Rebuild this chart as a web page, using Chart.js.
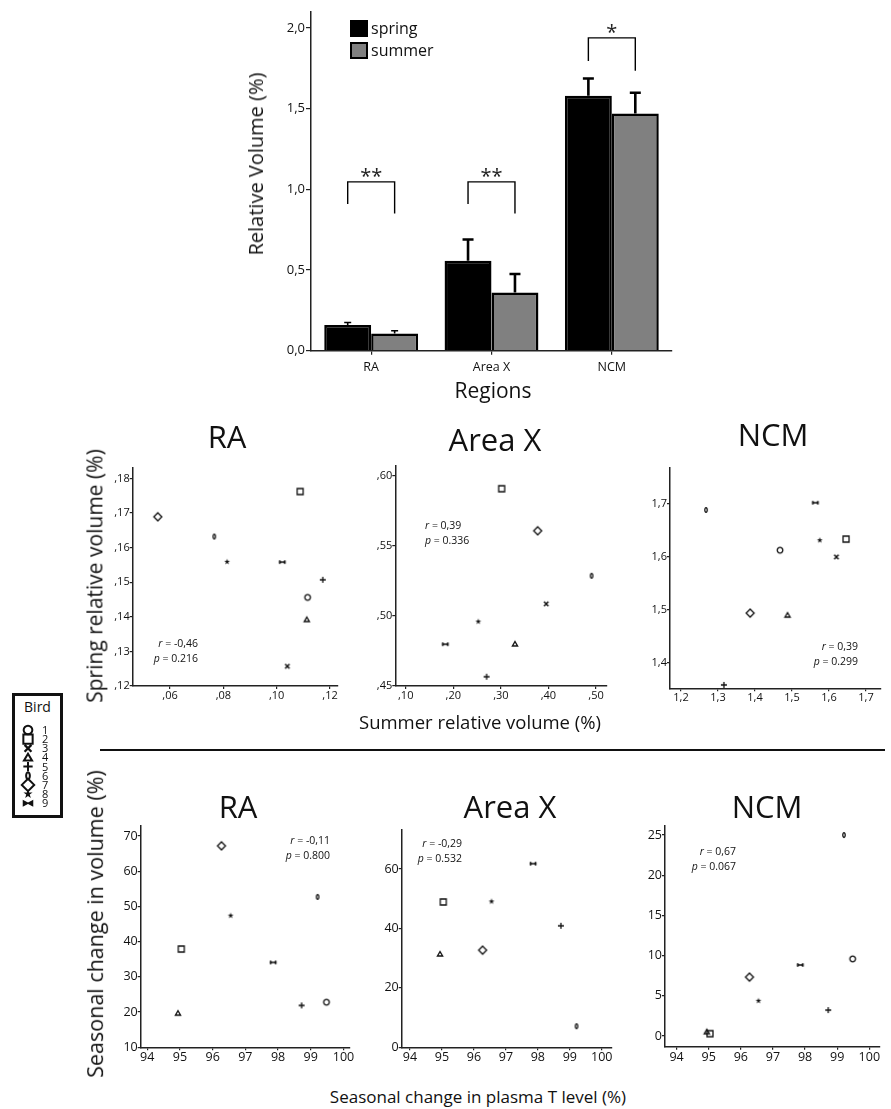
<!DOCTYPE html>
<html>
<head>
<meta charset="utf-8">
<script src="https://cdn.jsdelivr.net/npm/chart.js@4.4.0/dist/chart.umd.min.js"></script>
<style>
body{margin:0;background:#fff}
#fig{position:relative;width:891px;height:1109px;font-family:'Open Sans',sans-serif;color:#111;overflow:hidden;background:#fff}
#fig canvas{position:absolute}
.lbl{position:absolute;white-space:nowrap;line-height:1.2}
.stat{position:absolute;white-space:nowrap;font-size:10.5px;line-height:14.5px}
</style>
</head>
<body>
<div id="fig"></div>
<script>
// Seasonal song-nucleus volume figure

// bar chart: relative volume per region
const regions = ['RA','Area X','NCM']
const springMean = [0.159,0.557,1.579]
const springErr = [0.016,0.132,0.107]
const summerMean = [0.107,0.361,1.470]
const summerErr = [0.017,0.114,0.128]
const barTicks = [0,0.5,1,1.5,2]
const sigMarks = ['**','**','*']
const sigTop = [1.046,1.046,1.938]
const sigLeftEnd = [0.908,0.908,1.794]
const sigRightEnd = [0.85,0.85,1.734]

// birds 1..9 and their symbols
const birds = [1,2,3,4,5,6,7,8,9]
const birdShapes = ['circle','square','cross','triangle','plus','zero','diamond','star','bowtie']

// summer (x) vs spring (y) relative volume, per bird
const raSummer = [0.1116,0.1088,0.1040,0.1113,0.1173,0.0766,0.0554,0.0814,0.1021]
const raSpring = [0.1456,0.1762,0.1257,0.1392,0.1507,0.1632,0.1689,0.1559,0.1558]
const areaXSummer = [null,0.3017,0.3954,0.3296,0.2700,0.4908,0.3773,0.2525,0.1832]
const areaXSpring = [null,0.5907,0.5086,0.4800,0.4566,0.5286,0.5607,0.4960,0.4798]
const ncmSummer = [1.4676,1.646,1.620,1.488,1.316,1.2676,1.387,1.575,1.563]
const ncmSpring = [1.6127,1.6337,1.600,1.490,1.358,1.6887,1.4938,1.6316,1.7025]

// seasonal change in plasma T (x) vs seasonal change in volume (y)
const plasmaT = [99.48,95.04,null,94.94,98.72,99.21,96.27,96.55,97.85]
const raChange = [22.8,37.9,null,19.7,21.9,52.7,67.2,47.4,34.1]
const areaXChange = [null,48.9,null,31.4,40.9,7.1,32.7,49.1,61.8]
const ncmChange = [9.59,0.29,null,0.53,3.22,25.0,7.33,4.38,8.84]

// tick values
const raVolXTicks = [0.06,0.08,0.10,0.12]
const raVolYTicks = [0.12,0.13,0.14,0.15,0.16,0.17,0.18]
const areaXVolXTicks = [0.1,0.2,0.3,0.4,0.5]
const areaXVolYTicks = [0.45,0.5,0.55,0.6]
const ncmVolXTicks = [1.2,1.3,1.4,1.5,1.6,1.7]
const ncmVolYTicks = [1.4,1.5,1.6,1.7]
const plasmaTicks = [94,95,96,97,98,99,100]
const raChangeTicks = [10,20,30,40,50,60,70]
const areaXChangeTicks = [0,20,40,60]
const ncmChangeTicks = [0,5,10,15,20,25]

const FONT = "'Open Sans', sans-serif"
const INK = '#111'
Chart.defaults.font.family = FONT
Chart.defaults.color = INK

const fig = document.getElementById('fig')

function addCanvas(b){
  const c = document.createElement('canvas')
  c.width = b.w; c.height = b.h
  c.style.left = b.x+'px'; c.style.top = b.y+'px'
  fig.appendChild(c)
  return c
}

function label(html, x, y, size, opts){
  opts = opts || {}
  const d = document.createElement('div')
  d.className = 'lbl'
  d.innerHTML = html
  d.style.fontSize = size+'px'
  d.style.left = x+'px'; d.style.top = y+'px'
  d.style.transform = 'translate(-50%,-50%)' + (opts.rot ? ' rotate(-90deg)' : '')
  fig.appendChild(d)
  return d
}

function stat(lines, x, y, align){
  const d = document.createElement('div')
  d.className = 'stat'
  d.innerHTML = lines.join('<br>')
  d.style.top = y+'px'
  d.style.textAlign = align
  if(align==='right'){ d.style.right = (891-x)+'px' } else { d.style.left = x+'px' }
  fig.appendChild(d)
}

const fmtFrac = v => v.toFixed(2).slice(1).replace('.',',')
const fmtOne = v => v.toFixed(1).replace('.',',')
const fmtInt = v => String(v)

function drawMarker(ctx, kind, cx, cy, s){
  ctx.save()
  ctx.translate(cx,cy); ctx.scale(s,s)
  ctx.strokeStyle = INK; ctx.fillStyle = INK; ctx.lineWidth = 1.3
  ctx.beginPath()
  switch(kind){
    case 'circle': ctx.arc(0,0,2.8,0,Math.PI*2); ctx.stroke(); break
    case 'square': ctx.rect(-3,-3,6,6); ctx.stroke(); break
    case 'cross':
      ctx.lineWidth = 1.5
      ctx.moveTo(-2.2,-2.2); ctx.lineTo(2.2,2.2); ctx.moveTo(2.2,-2.2); ctx.lineTo(-2.2,2.2); ctx.stroke(); break
    case 'triangle': ctx.moveTo(0,-2.4); ctx.lineTo(2.6,2); ctx.lineTo(-2.6,2); ctx.closePath(); ctx.stroke(); break
    case 'plus': ctx.moveTo(-3,0); ctx.lineTo(3,0); ctx.moveTo(0,-3); ctx.lineTo(0,3); ctx.stroke(); break
    case 'zero': ctx.ellipse(0,0,1.2,2.3,0,0,Math.PI*2); ctx.stroke(); break
    case 'diamond': ctx.moveTo(0,-4); ctx.lineTo(4,0); ctx.lineTo(0,4); ctx.lineTo(-4,0); ctx.closePath(); ctx.stroke(); break
    case 'star':
      for(let k=0;k<10;k++){ const r = k%2 ? 1.2 : 3.1, a = -Math.PI/2 + k*Math.PI/5; ctx.lineTo(r*Math.cos(a), r*Math.sin(a)) }
      ctx.closePath(); ctx.fill(); break
    case 'bowtie':
      ctx.moveTo(-3,-1.6); ctx.lineTo(0,0); ctx.lineTo(-3,1.6); ctx.closePath()
      ctx.moveTo(3,-1.6); ctx.lineTo(0,0); ctx.lineTo(3,1.6); ctx.closePath()
      ctx.fill(); ctx.lineWidth = 0.8; ctx.stroke(); break
  }
  ctx.restore()
}

// one small canvas per symbol, used as Chart.js pointStyle
const markers = {}
birdShapes.forEach(k=>{
  const c = document.createElement('canvas')
  c.width = 12; c.height = 12
  drawMarker(c.getContext('2d'), k, 6, 6, 1)
  markers[k] = c
})

function axisCfg(o){
  return {
    type:'linear', min:o.min, max:o.max,
    afterBuildTicks: a => { a.ticks = o.ticks.map(v=>({value:v})) },
    afterFit: o.fit,
    ticks:{callback:o.fmt, font:{size:o.size}, color:INK, padding:o.pad||0, autoSkip:false, maxRotation:0},
    grid:{drawOnChartArea:false, tickLength:o.tick||3, color:'#222', lineWidth:1.2},
    border:{color:'#222', width:1.5}
  }
}

function scatterPanel(p){
  const cv = addCanvas(p.canvas)
  const pts = [], styles = []
  birds.forEach((b,i)=>{
    const x = p.xs[i], y = p.ys[i]
    if(x==null || y==null) return
    pts.push({x,y}); styles.push(markers[birdShapes[i]])
  })
  const c = p.canvas, a = p.area
  new Chart(cv, {
    type:'scatter',
    data:{datasets:[{label:p.name, data:pts, pointStyle:styles, pointRadius:4, borderColor:INK, backgroundColor:INK}]},
    options:{
      responsive:false, animation:false, devicePixelRatio:1,
      layout:{padding:{top:a.top-c.y, right:c.x+c.w-a.right, left:0, bottom:0}},
      plugins:{legend:{display:false}, tooltip:{enabled:false}},
      scales:{
        x: axisCfg({min:p.xMin, max:p.xMax, ticks:p.xTicks, fmt:p.fmtX, size:p.size,
          fit: s => { s.height = c.y+c.h-a.bottom }}),
        y: axisCfg({min:p.yMin, max:p.yMax, ticks:p.yTicks, fmt:p.fmtY, size:p.size,
          fit: s => { s.width = a.left-c.x }})
      }
    }
  })
}

// ---- bar chart ----
const barExtras = {
  id:'barExtras',
  afterDatasetsDraw(chart){
    const ctx = chart.ctx, y = chart.scales.y
    const errs = [springErr, summerErr]
    ctx.save()
    ctx.strokeStyle = '#000'
    chart.data.datasets.forEach((ds,di)=>{
      chart.getDatasetMeta(di).data.forEach((bar,i)=>{
        const top = y.getPixelForValue(ds.data[i])
        const end = y.getPixelForValue(ds.data[i]+errs[di][i])
        const cap = i===0 ? 3.5 : 5.5
        ctx.lineWidth = i===0 ? 1.6 : 2.6
        ctx.beginPath()
        ctx.moveTo(bar.x, top); ctx.lineTo(bar.x, end)
        ctx.moveTo(bar.x-cap, end); ctx.lineTo(bar.x+cap, end)
        ctx.stroke()
      })
    })
    const m0 = chart.getDatasetMeta(0).data, m1 = chart.getDatasetMeta(1).data
    ctx.lineWidth = 1.4
    ctx.fillStyle = '#222'
    ctx.font = "20px "+FONT
    ctx.textAlign = 'center'; ctx.textBaseline = 'alphabetic'
    regions.forEach((r,i)=>{
      const xl = m0[i].x, xr = m1[i].x, yt = y.getPixelForValue(sigTop[i])
      ctx.beginPath()
      ctx.moveTo(xl, y.getPixelForValue(sigLeftEnd[i])); ctx.lineTo(xl, yt)
      ctx.lineTo(xr, yt); ctx.lineTo(xr, y.getPixelForValue(sigRightEnd[i]))
      ctx.stroke()
      ctx.fillText(sigMarks[i], (xl+xr)/2, yt+1)
    })
    ctx.restore()
  }
}

const barBox = {x:240, y:0, w:460, h:385}
const barArea = {left:311, top:11.7, right:672, bottom:350.7}
new Chart(addCanvas(barBox), {
  type:'bar',
  data:{labels:regions, datasets:[
    {label:'spring', data:springMean, backgroundColor:'#000', borderColor:'#000', borderWidth:2.5},
    {label:'summer', data:summerMean, backgroundColor:'#808080', borderColor:'#000', borderWidth:2.5}
  ]},
  options:{
    responsive:false, animation:false, devicePixelRatio:1,
    categoryPercentage:0.78, barPercentage:1,
    layout:{padding:{top:barArea.top-barBox.y, right:barBox.x+barBox.w-barArea.right, left:0, bottom:0}},
    plugins:{legend:{display:false}, tooltip:{enabled:false}},
    scales:{
      x:{
        afterFit: s => { s.height = barBox.y+barBox.h-barArea.bottom },
        ticks:{font:{size:12.5}, color:INK, padding:5},
        grid:{drawOnChartArea:false, offset:false, tickLength:4, color:'#222', lineWidth:1.2},
        border:{color:'#222', width:1.5}
      },
      y: axisCfg({min:0, max:2.1, ticks:barTicks, fmt:fmtOne, size:13, tick:5, pad:1,
        fit: s => { s.width = barArea.left-barBox.x }})
    }
  },
  plugins:[barExtras]
})

// bar legend
function swatch(x, y, fill){
  const d = document.createElement('div')
  d.style.cssText = `position:absolute;left:${x}px;top:${y}px;width:18px;height:17px;box-sizing:border-box;background:${fill};border:2.5px solid #000`
  fig.appendChild(d)
}
swatch(350, 20, '#000')
swatch(350, 41.5, '#808080')
const lg1 = label('spring', 0, 29, 16); lg1.style.left='371px'; lg1.style.transform='translateY(-50%)'
const lg2 = label('summer', 0, 51, 16); lg2.style.left='371px'; lg2.style.transform='translateY(-50%)'

label('Relative Volume (%)', 256, 164, 20, {rot:true})
label('Regions', 493, 391, 21)

// ---- summer vs spring panels ----
scatterPanel({name:'RA', xs:raSummer, ys:raSpring,
  canvas:{x:100, y:450, w:250, h:260}, area:{left:132.7, top:467.3, right:338, bottom:686},
  xMin:0.046, xMax:0.123, yMin:0.12, yMax:0.1832,
  xTicks:raVolXTicks, yTicks:raVolYTicks, fmtX:fmtFrac, fmtY:fmtFrac, size:11})
scatterPanel({name:'Area X', xs:areaXSummer, ys:areaXSpring,
  canvas:{x:360, y:450, w:260, h:260}, area:{left:395.3, top:466, right:606.7, bottom:686},
  xMin:0.0781, xMax:0.5225, yMin:0.45, yMax:0.6069,
  xTicks:areaXVolXTicks, yTicks:areaXVolYTicks, fmtX:fmtFrac, fmtY:fmtFrac, size:11})
scatterPanel({name:'NCM', xs:ncmSummer, ys:ncmSpring,
  canvas:{x:630, y:450, w:261, h:260}, area:{left:670, top:467.3, right:880.7, bottom:688.3},
  xMin:1.1703, xMax:1.7397, yMin:1.3516, yMax:1.7694,
  xTicks:ncmVolXTicks, yTicks:ncmVolYTicks, fmtX:fmtOne, fmtY:fmtOne, size:11})

label('RA', 227, 437, 31)
label('Area X', 495, 440, 31)
label('NCM', 773, 435, 31)
label('Spring relative volume (%)', 95, 576, 21, {rot:true})
label('Summer relative volume (%)', 480, 722, 18.5)
stat(['<i>r</i> = -0,46','<i>p</i> = 0.216'], 198, 636, 'right')
stat(['<i>r</i> = 0,39','<i>p</i> = 0.336'], 425, 518, 'left')
stat(['<i>r</i> = 0,39','<i>p</i> = 0.299'], 858, 639, 'right')

// divider
const hr = document.createElement('div')
hr.style.cssText = 'position:absolute;left:100px;top:749px;width:785px;height:1.5px;background:#111'
fig.appendChild(hr)

// ---- plasma T vs volume change panels ----
scatterPanel({name:'RA', xs:plasmaT, ys:raChange,
  canvas:{x:105, y:810, w:255, h:260}, area:{left:140.7, top:826, right:350, bottom:1047.3},
  xMin:93.8, xMax:100.2, yMin:10, yMax:72.84,
  xTicks:plasmaTicks, yTicks:raChangeTicks, fmtX:fmtInt, fmtY:fmtInt, size:12.5})
scatterPanel({name:'Area X', xs:plasmaT, ys:areaXChange,
  canvas:{x:365, y:810, w:262, h:260}, area:{left:401.7, top:829.3, right:611.7, bottom:1047.3},
  xMin:93.74, xMax:100.31, yMin:0, yMax:73.36,
  xTicks:plasmaTicks, yTicks:areaXChangeTicks, fmtX:fmtInt, fmtY:fmtInt, size:12.5})
scatterPanel({name:'NCM', xs:plasmaT, ys:ncmChange,
  canvas:{x:630, y:810, w:261, h:260}, area:{left:665, top:825.7, right:879.3, bottom:1046.7},
  xMin:93.64, xMax:100.31, yMin:-1.33, yMax:26.16,
  xTicks:plasmaTicks, yTicks:ncmChangeTicks, fmtX:fmtInt, fmtY:fmtInt, size:12.5})

label('RA', 238, 807, 31)
label('Area X', 510, 807, 31)
label('NCM', 767, 807, 31)
label('Seasonal change in volume (%)', 95, 924, 21.5, {rot:true})
label('Seasonal change in plasma T level (%)', 478, 1097, 17)
stat(['<i>r</i> = -0,11','<i>p</i> = 0.800'], 330, 833, 'right')
stat(['<i>r</i> = -0,29','<i>p</i> = 0.532'], 462, 836, 'right')
stat(['<i>r</i> = 0,67','<i>p</i> = 0.067'], 736, 844, 'right')

// ---- bird legend ----
const box = document.createElement('div')
box.style.cssText = 'position:absolute;left:12px;top:693px;width:51px;height:125px;box-sizing:border-box;border:3px solid #111'
fig.appendChild(box)
label('Bird', 37.5, 707, 14)
const lc = addCanvas({x:14, y:722, w:30, h:92})
const lctx = lc.getContext('2d')
birds.forEach((b,i)=>{
  const cy = 730 + i*9.15
  drawMarker(lctx, birdShapes[i], 14, cy-722, 1.55)
  const n = label(String(b), 0, cy, 11)
  n.style.left = '42px'; n.style.transform = 'translateY(-50%)'
})
</script>
</body>
</html>
